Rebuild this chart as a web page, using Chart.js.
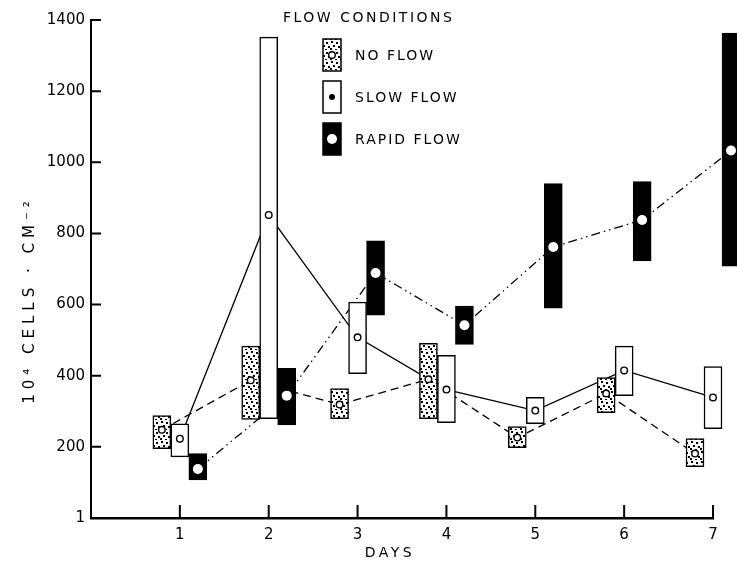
<!DOCTYPE html>
<html lang="en">
<head>
<meta charset="UTF-8">
<title>Cells under flow conditions</title>
<script src="https://cdn.jsdelivr.net/npm/chart.js@4"></script>
<style>
  body { margin: 0; background: #fff; }
  #wrap { width: 737px; height: 565px; position: relative; }
</style>
</head>
<body>
<div id="wrap"><canvas id="cells"></canvas></div>
<script>
  // days and the three flow conditions: low / high end of each box and the mean inside it
  const days = [1, 2, 3, 4, 5, 6, 7];

  const noFlowLow  = [195, 277, 279, 279, 198, 296, 144];
  const noFlowHigh = [288, 483, 364, 491, 257, 395, 223];
  const noFlowMean = [248, 387, 319, 390, 226, 350, 181];

  const slowLow  = [172, 279, 406, 268, 265, 344, 251];
  const slowHigh = [265, 1352, 607, 457, 339, 483, 426];
  const slowMean = [223, 852, 508, 361, 302, 415, 339];

  const rapidLow  = [107, 262, 570, 488, 590, 723, 708];
  const rapidHigh = [181, 421, 779, 596, 940, 946, 1363];
  const rapidMean = [138, 344, 689, 542, 762, 838, 1033];

  const yTicks = [0, 200, 400, 600, 800, 1000, 1200, 1400];
  const yTickText = ['1', '200', '400', '600', '800', '1000', '1200', '1400'];

  const FONT = 'DejaVu Sans';

  // dotted fill for the "no flow" boxes
  function stipple() {
    const c = document.createElement('canvas');
    c.width = 10; c.height = 10;
    const g = c.getContext('2d');
    g.fillStyle = '#fff';
    g.fillRect(0, 0, 10, 10);
    g.fillStyle = '#000';
    [[1, 1], [6, 2], [3, 5], [8, 6], [0, 8], [5, 9]].forEach(p => g.fillRect(p[0], p[1], 2, 2));
    return g.createPattern(c, 'repeat');
  }

  const pairs = (lo, hi) => lo.map((v, i) => [v, hi[i]]);

  function drawMarker(ctx, kind, x, y) {
    ctx.save();
    ctx.beginPath();
    if (kind === 'rapid') {
      ctx.arc(x, y, 5, 0, Math.PI * 2);
      ctx.fillStyle = '#fff';
      ctx.fill();
    } else if (kind === 'dot') {
      ctx.arc(x, y, 3, 0, Math.PI * 2);
      ctx.fillStyle = '#000';
      ctx.fill();
    } else {
      ctx.arc(x, y, 3.3, 0, Math.PI * 2);
      ctx.fillStyle = '#fff';
      ctx.fill();
      ctx.lineWidth = 1.4;
      ctx.strokeStyle = '#000';
      ctx.stroke();
    }
    ctx.restore();
  }

  // lines joining the means (behind the boxes) and the mean markers (on top)
  const meanLines = {
    id: 'meanLines',
    beforeDatasetsDraw(chart) {
      const { ctx, scales: { y } } = chart;
      chart.data.datasets.forEach((ds, i) => {
        const pts = chart.getDatasetMeta(i).data;
        ctx.save();
        ctx.strokeStyle = '#000';
        ctx.lineWidth = 1.3;
        ctx.setLineDash(ds.lineDash);
        ctx.beginPath();
        ds.means.forEach((m, j) => {
          const px = pts[j].x, py = y.getPixelForValue(m);
          if (j === 0) ctx.moveTo(px, py); else ctx.lineTo(px, py);
        });
        ctx.stroke();
        ctx.restore();
      });
    },
    afterDatasetsDraw(chart) {
      const { ctx, scales: { y } } = chart;
      chart.data.datasets.forEach((ds, i) => {
        const pts = chart.getDatasetMeta(i).data;
        ds.means.forEach((m, j) => drawMarker(ctx, ds.marker, pts[j].x, y.getPixelForValue(m)));
      });
    }
  };

  // tick marks point inward on this figure
  const innerTicks = {
    id: 'innerTicks',
    afterDraw(chart) {
      const { ctx, chartArea: a, scales: { x, y } } = chart;
      ctx.save();
      ctx.strokeStyle = '#000';
      ctx.lineWidth = 2;
      ctx.beginPath();
      y.ticks.forEach(t => {
        if (t.value <= 0) return;
        const py = y.getPixelForValue(t.value);
        ctx.moveTo(a.left, py);
        ctx.lineTo(a.left + 10, py);
      });
      x.ticks.forEach(t => {
        const px = x.getPixelForValue(t.value);
        ctx.moveTo(px, a.bottom);
        ctx.lineTo(px, a.bottom - 13);
      });
      ctx.stroke();
      ctx.restore();
    }
  };

  // legend box and axis titles, with the wide lettering of the original
  const labels = {
    id: 'labels',
    afterDraw(chart) {
      const ctx = chart.ctx;
      ctx.save();
      ctx.fillStyle = '#000';
      ctx.textBaseline = 'middle';
      ctx.font = '14px "' + FONT + '"';

      ctx.letterSpacing = '2.5px';
      ctx.textAlign = 'left';
      ctx.fillText('FLOW CONDITIONS', 283, 18);

      ctx.letterSpacing = '2px';
      chart.data.datasets.forEach((ds, i) => {
        const top = 39 + i * 42;
        ctx.fillStyle = ds.backgroundColor;
        ctx.fillRect(323, top, 18, 32);
        ctx.lineWidth = 1.5;
        ctx.strokeStyle = '#000';
        ctx.strokeRect(323, top, 18, 32);
        drawMarker(ctx, ds.legendMarker, 332, top + 16);
        ctx.fillStyle = '#000';
        ctx.fillText(ds.label, 355, top + 17);
      });

      ctx.letterSpacing = '3.5px';
      ctx.textAlign = 'center';
      ctx.fillText('DAYS', 390, 553);

      ctx.save();
      ctx.translate(30, 300);
      ctx.rotate(-Math.PI / 2);
      ctx.font = '15px "' + FONT + '"';
      ctx.letterSpacing = '5px';
      ctx.fillText('10⁴ CELLS · CM⁻²', 0, 0);
      ctx.restore();
      ctx.restore();
    }
  };

  const dots = stipple();
  const tickFont = { family: FONT, size: 15 };

  new Chart(document.getElementById('cells'), {
    type: 'bar',
    data: {
      labels: days,
      datasets: [
        { label: 'NO FLOW', data: pairs(noFlowLow, noFlowHigh), means: noFlowMean,
          backgroundColor: dots, lineDash: [8, 5], marker: 'open', legendMarker: 'open' },
        { label: 'SLOW FLOW', data: pairs(slowLow, slowHigh), means: slowMean,
          backgroundColor: '#fff', lineDash: [], marker: 'open', legendMarker: 'dot' },
        { label: 'RAPID FLOW', data: pairs(rapidLow, rapidHigh), means: rapidMean,
          backgroundColor: '#000', lineDash: [9, 4, 1.5, 4, 1.5, 4], marker: 'rapid', legendMarker: 'rapid' }
      ]
    },
    options: {
      responsive: true,
      maintainAspectRatio: false,
      animation: false,
      layout: { padding: { top: 20, right: 24, left: 0, bottom: 0 } },
      datasets: {
        bar: { barThickness: 18, borderColor: '#000', borderWidth: 1.5, borderSkipped: false, clip: false }
      },
      plugins: { legend: { display: false }, tooltip: { enabled: false } },
      scales: {
        x: {
          type: 'linear', min: 0, max: 7, offset: false,
          grid: { display: false, drawTicks: false, offset: false },
          border: { color: '#000', width: 2.5 },
          afterBuildTicks: s => { s.ticks = days.map(v => ({ value: v })); },
          afterFit: s => { s.height = 47; },
          ticks: { color: '#000', font: tickFont, padding: 8, maxRotation: 0, autoSkip: false,
                   callback: v => String(v) }
        },
        y: {
          min: 0, max: 1400,
          grid: { display: false, drawTicks: false },
          border: { color: '#000', width: 2 },
          afterBuildTicks: s => { s.ticks = yTicks.map(v => ({ value: v })); },
          afterFit: s => { s.width = 91; },
          ticks: { color: '#000', font: tickFont, padding: 6, callback: (v, i) => yTickText[i] }
        }
      }
    },
    plugins: [meanLines, innerTicks, labels]
  });
</script>
</body>
</html>
